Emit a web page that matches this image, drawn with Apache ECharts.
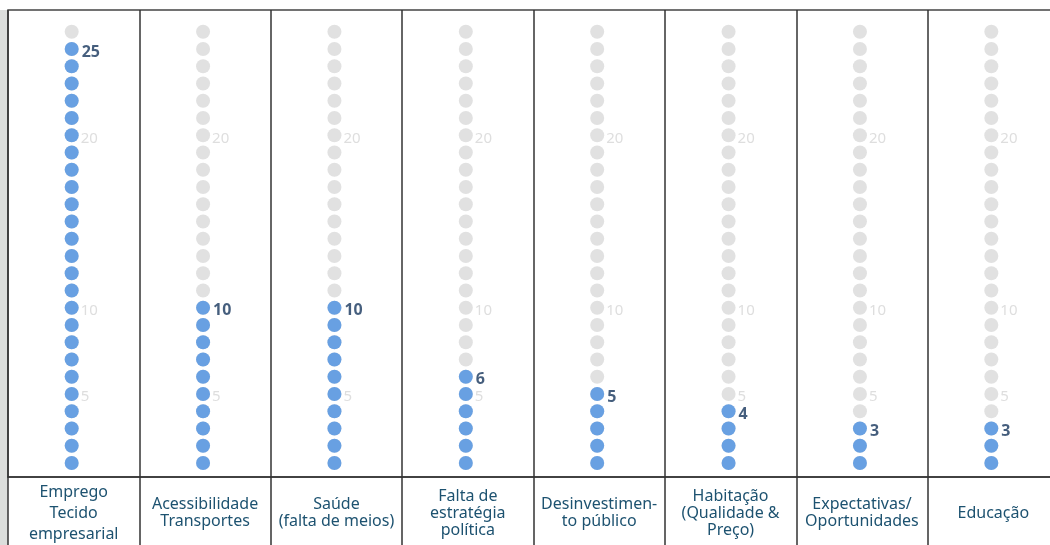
<!DOCTYPE html>
<html><head><meta charset="utf-8">
<script src="https://cdn.jsdelivr.net/npm/echarts@6/dist/echarts.min.js"></script>
<style>html,body{margin:0;padding:0;background:#fff}#c{width:1050px;height:545px}</style>
</head><body><div id="c"></div>
<script>
const categories = ['Emprego\nTecido\nempresarial', 'Acessibilidade\nTransportes', 'Saúde\n(falta de meios)', 'Falta de\nestratégia\npolítica', 'Desinvestimen-\nto público', 'Habitação\n(Qualidade &\nPreço)', 'Expectativas/\nOportunidades', 'Educação'];
const values = [25, 10, 10, 6, 5, 4, 3, 3];
const totalDots = 26;
const tickLabels = [5, 10, 20];

const greyData = [], blueData = [];
categories.forEach((c, i) => {
  for (let v = 1; v <= totalDots; v++) {
    const item = { value: [i, v] };
    if (tickLabels.includes(v) && v !== values[i]) item.label = { show: true };
    greyData.push(item);
  }
  for (let v = 1; v <= values[i]; v++) {
    const item = { value: [i, v] };
    if (v === values[i]) item.label = { show: true };
    blueData.push(item);
  }
});

const FONT = '"Noto Sans", "Open Sans", sans-serif';
const LABEL_COLOR = '#1d5270';
const chart = echarts.init(document.getElementById('c'), null, { renderer: 'canvas' });
chart.setOption({
  backgroundColor: '#ffffff',
  animation: false,
  graphic: [{ type: 'rect', left: 0, top: 10, shape: { width: 8, height: 540 }, style: { fill: '#dcdedc' }, z: -1 }],
  grid: { left: 8, right: -9, top: 10, bottom: 68, containLabel: false, outerBoundsMode: 'none', show: true, borderColor: '#444', borderWidth: 1.5, backgroundColor: '#fff' },
  xAxis: {
    type: 'category',
    data: categories.map((c, i) => i === 0 ? { value: c, textStyle: { lineHeight: 21, verticalAlign: 'middle', align: 'center', color: LABEL_COLOR, fontSize: 16, fontFamily: FONT } } : c),
    boundaryGap: true,
    axisLine: { show: true, lineStyle: { color: '#333', width: 1.5 } },
    axisTick: { show: true, length: 80, interval: 0, lineStyle: { color: '#333', width: 1.5 } },
    splitLine: { show: true, interval: 0, lineStyle: { color: '#333', width: 1.5 } },
    axisLabel: { interval: 0, margin: 36, verticalAlign: 'middle', align: 'center', color: LABEL_COLOR, fontSize: 16, lineHeight: 17, fontFamily: FONT }
  },
  yAxis: { type: 'value', min: 0.19, max: 27.26, show: false, splitLine: { show: false } },
  series: [
    {
      type: 'scatter', data: greyData, symbol: 'circle', symbolSize: 14, symbolOffset: [-2, 0],
      itemStyle: { color: '#d9d9d9' }, silent: true,
      label: { show: false, position: 'right', distance: 2, offset: [0, 3], formatter: p => p.value[1], color: '#d6d6d6', fontSize: 15, fontFamily: FONT }
    },
    {
      type: 'scatter', data: blueData, symbol: 'circle', symbolSize: 14, symbolOffset: [-2, 0],
      itemStyle: { color: '#4a90e2' }, silent: true, z: 3,
      label: { show: false, position: 'right', distance: 3, offset: [0, 3], formatter: p => p.value[1], color: '#16365c', fontWeight: 'bold', fontSize: 16, fontFamily: FONT }
    }
  ]
});
</script></body></html>
